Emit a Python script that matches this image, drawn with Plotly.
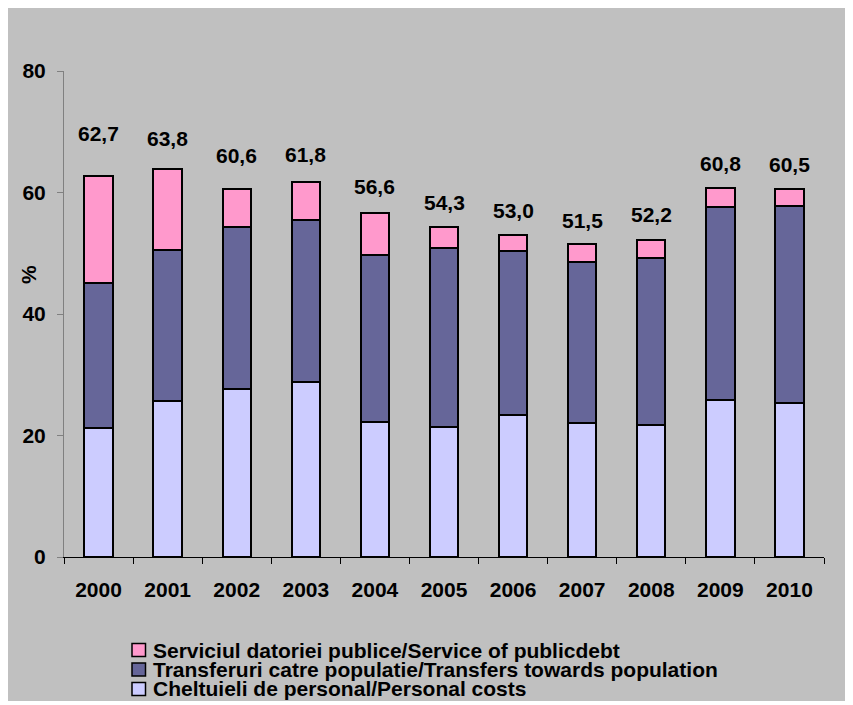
import plotly.graph_objects as go

# ---- data ----
years = ["2000", "2001", "2002", "2003", "2004", "2005", "2006", "2007", "2008", "2009", "2010"]
personal_costs = [21.2, 25.7, 27.7, 28.8, 22.2, 21.4, 23.3, 22.0, 21.7, 25.9, 25.4]
transfers_population = [23.9, 24.8, 26.6, 26.7, 27.5, 29.4, 27.1, 26.6, 27.6, 31.7, 32.3]
public_debt_service = [17.6, 13.3, 6.3, 6.3, 6.9, 3.5, 2.6, 2.9, 2.9, 3.2, 2.8]
totals = [62.7, 63.8, 60.6, 61.8, 56.6, 54.3, 53.0, 51.5, 52.2, 60.8, 60.5]
y_ticks = [0, 20, 40, 60, 80]

names = [
    "Cheltuieli de personal/Personal costs",
    "Transferuri catre populatie/Transfers towards population",
    "Serviciul datoriei publice/Service of publicdebt",
]

# ---- styling ----
OFF = 8  # browser body margin
W, H = 853 - OFF, 705 - OFF
ML, MT = 64 - OFF, 71 - OFF
PLOT_R, PLOT_B = 824 - OFF, 557 - OFF
MR, MB = W - PLOT_R, H - PLOT_B
PW, PH = W - ML - MR, H - MT - MB
FONT = "Liberation Sans, Arial, sans-serif"
BG = "#C0C0C0"
colors = ["#CCCCFF", "#666699", "#FF99CC"]
label_lift = [43, 31, 33, 27, 27, 25, 25, 24, 25, 24, 25]  # px above bar top (label centre)


def px_x(px):  # screen px -> paper
    return (px - OFF - ML) / PW


def px_y(py):
    return (H - MB - (py - OFF)) / PH


fig = go.Figure()
for series, name, col in zip([personal_costs, transfers_population, public_debt_service], names, colors):
    fig.add_bar(
        x=years, y=series, name=name,
        marker=dict(color=col, line=dict(color="black", width=2)),
        showlegend=False,
    )

bold = dict(family=FONT, size=21, color="black", weight="bold")

annotations = []
for i, (tot, lift) in enumerate(zip(totals, label_lift)):
    annotations.append(dict(
        x=i, y=tot, xref="x", yref="y", text=f"{tot:.1f}".replace(".", ","),
        showarrow=False, yanchor="middle", yshift=lift, font=bold,
    ))

# y-axis title "%"
annotations.append(dict(
    x=px_x(28), y=px_y(275), xref="paper", yref="paper", text="%",
    showarrow=False, textangle=-90, font=bold, xanchor="center", yanchor="middle",
))

# legend (drawn manually to match the tight Excel legend spacing)
shapes = [dict(type="rect", xref="paper", yref="paper", layer="below",
               x0=px_x(OFF), x1=px_x(850), y0=px_y(701), y1=px_y(OFF),
               fillcolor=BG, line=dict(width=0))]
legend_rows_y = [650, 669.5, 689]
legend_order = [2, 1, 0]
for row_y, idx in zip(legend_rows_y, legend_order):
    shapes.append(dict(type="rect", xref="paper", yref="paper",
                       x0=px_x(132), x1=px_x(145.5), y0=px_y(row_y + 6.5), y1=px_y(row_y - 6.5),
                       fillcolor=colors[idx], line=dict(color="black", width=1.5)))
    annotations.append(dict(
        x=px_x(151), y=px_y(row_y), xref="paper", yref="paper", text=names[idx],
        showarrow=False, xanchor="left", yanchor="middle", font=bold,
    ))

fig.update_layout(
    width=W, height=H,
    margin=dict(l=ML, r=MR, t=MT, b=MB),
    barmode="stack", bargap=0.59,
    paper_bgcolor="white", plot_bgcolor=BG,
    font=dict(family=FONT, size=21, color="black"),
    annotations=annotations, shapes=shapes,
    showlegend=False,
)
fig.update_xaxes(
    type="category", range=[-0.5, len(years) - 0.5], tickson="boundaries",
    ticks="outside", ticklen=6, tickcolor="black", tickangle=0,
    showline=True, linecolor="black", linewidth=1, showgrid=False,
    tickfont=bold, ticklabelstandoff=14, automargin=False,
)
fig.update_yaxes(
    range=[0, 80], tickvals=y_ticks, ticks="outside", ticklen=6, tickcolor="#808080",
    showline=True, linecolor="#808080", linewidth=1, showgrid=False, zeroline=False,
    tickfont=bold, ticklabelstandoff=7, automargin=False,
)

fig.write_html("out.html")
